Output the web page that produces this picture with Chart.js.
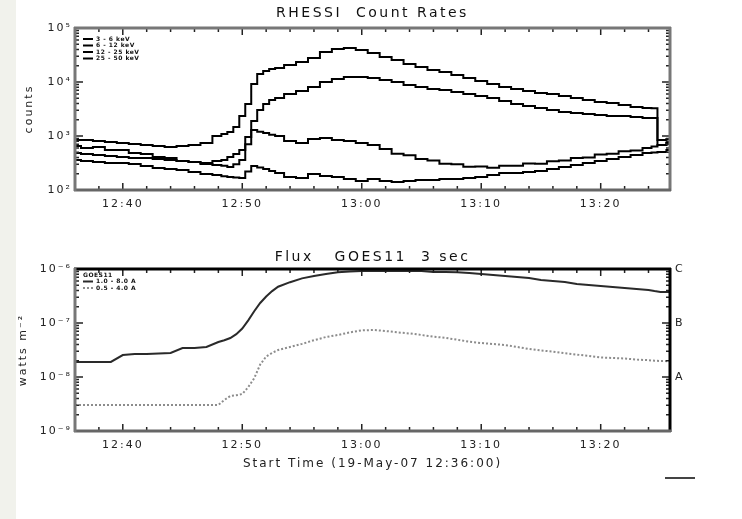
<!DOCTYPE html>
<html>
<head>
<meta charset="utf-8">
<script src="https://cdn.jsdelivr.net/npm/chart.js@4.4.0/dist/chart.umd.min.js"></script>
<style>
  html, body { margin: 0; padding: 0; background: #fff; }
  #page { position: relative; width: 742px; height: 519px; overflow: hidden; }
  #strip { position: absolute; left: 0; top: 0; width: 16px; height: 519px; background: #f1f2ec; }
  #countsChart { position: absolute; left: 0; top: 0; }
  #fluxChart { position: absolute; left: 0; top: 230px; }
  #stamp { position: absolute; left: 665px; top: 477px; width: 30px; height: 2px; background: #444; }
</style>
</head>
<body>
<div id="page">
  <div id="strip"></div>
  <canvas id="countsChart" width="742" height="235"></canvas>
  <canvas id="fluxChart" width="742" height="289"></canvas>
  <div id="stamp"></div>
</div>
<script>
// minutes after 12:00 UT; half-minute samples through the rise and at the attenuator drop
const minutes = [36, 37, 38, 39, 40, 41, 42, 43, 44, 45, 46, 47, 48,
                 48.5, 49, 49.5, 50, 50.5, 51, 51.5, 52, 52.5,
                 53, 54, 55, 56, 57, 58, 59, 60, 61, 62, 63, 64, 65, 66, 67, 68,
                 69, 70, 71, 72, 73, 74, 75, 76, 77, 78, 79, 80, 81, 82, 83, 84,
                 84.5, 85, 86];

// RHESSI count rates per energy band
const bandLabels = ['3 - 6 keV', '6 - 12 keV', '12 - 25 keV', '25 - 50 keV'];
const rate3to6 = [843, 843, 808, 774, 742, 711, 681, 653, 626, 653, 681, 742, 1000,
                  1089, 1186, 1468, 2345, 3910, 9180, 14060, 15980, 17410,
                  18170, 20640, 23460, 27830, 35940, 40840, 42630, 39150, 34440, 29040, 25550, 21540,
                  18960, 16680, 15320, 13480, 11860, 10430, 9180, 8080, 7420, 6810, 6260, 5990,
                  5500, 5055, 4640, 4263, 4085, 3750, 3445, 3300,
                  3250, 681, 760];
const rate6to12 = [484, 464, 445, 426, 408, 391, 391, 375, 359, 344, 330, 316, 344,
                   359, 408, 464, 550, 958, 1896, 3030, 3910, 4640,
                   5055, 5990, 6810, 8080, 10000, 11360, 12380, 12380, 11860, 10890, 10000, 8800,
                   8080, 7420, 7110, 6530, 5990, 5500, 5055, 4450, 3910, 3595, 3300, 3030,
                   2780, 2665, 2555, 2450, 2345, 2345, 2250, 2155,
                   2150, 843, 880];
const rate12to25 = [653, 599, 626, 550, 550, 484, 464, 408, 391, 344, 330, 303, 290,
                    280, 267, 300, 359, 700, 1290, 1200, 1136, 1060,
                    1000, 808, 742, 880, 918, 843, 808, 742, 681, 574, 470, 440,
                    375, 350, 305, 300, 270, 272, 258, 282, 280, 310, 305, 340,
                    350, 390, 400, 455, 470, 520, 540, 599,
                    640, 681, 742];
const rate25to50 = [359, 344, 330, 316, 316, 303, 278, 256, 245, 235, 215, 198, 190,
                    180, 174, 170, 167, 220, 278, 260, 245, 225,
                    206, 174, 167, 198, 182, 174, 160, 147, 160, 147, 141, 147,
                    153, 153, 160, 160, 167, 174, 190, 206, 206, 215, 225, 245,
                    267, 290, 316, 344, 375, 408, 445, 484,
                    495, 505, 550];

// GOES11 X-ray flux, watts m^-2
const fluxLabels = ['1.0 - 8.0 A', '0.5 - 4.0 A'];
const goesLong = [1.9e-8, 1.9e-8, 1.9e-8, 1.9e-8, 2.55e-8, 2.67e-8, 2.67e-8, 2.72e-8, 2.78e-8, 3.44e-8, 3.44e-8, 3.59e-8, 4.45e-8,
                  4.8e-8, 5.28e-8, 6.2e-8, 7.9e-8, 1.12e-7, 1.65e-7, 2.35e-7, 3.1e-7, 3.9e-7,
                  4.7e-7, 5.7e-7, 6.7e-7, 7.4e-7, 8.1e-7, 8.7e-7, 9.0e-7, 9.18e-7, 9.2e-7, 9.2e-7, 9.2e-7, 9.18e-7,
                  9.15e-7, 8.8e-7, 8.8e-7, 8.75e-7, 8.43e-7, 8.08e-7, 7.74e-7, 7.42e-7, 7.11e-7, 6.81e-7, 6.26e-7, 6.0e-7,
                  5.74e-7, 5.28e-7, 5.05e-7, 4.84e-7, 4.64e-7, 4.45e-7, 4.26e-7, 4.08e-7,
                  3.9e-7, 3.75e-7, 3.75e-7];
const goesShort = [3.03e-9, 3.03e-9, 3.03e-9, 3.03e-9, 3.03e-9, 3.03e-9, 3.03e-9, 3.03e-9, 3.03e-9, 3.03e-9, 3.03e-9, 3.03e-9, 3.03e-9,
                   3.75e-9, 4.45e-9, 4.6e-9, 4.84e-9, 6.5e-9, 9.5e-9, 1.7e-8, 2.4e-8, 2.8e-8,
                   3.16e-8, 3.59e-8, 4.1e-8, 4.8e-8, 5.5e-8, 6.0e-8, 6.7e-8, 7.3e-8, 7.42e-8, 7.11e-8, 6.7e-8, 6.4e-8,
                   6.0e-8, 5.6e-8, 5.3e-8, 4.9e-8, 4.5e-8, 4.26e-8, 4.08e-8, 3.91e-8, 3.6e-8, 3.3e-8, 3.1e-8, 2.95e-8,
                   2.75e-8, 2.6e-8, 2.45e-8, 2.3e-8, 2.25e-8, 2.2e-8, 2.1e-8, 2.05e-8,
                   2.0e-8, 1.98e-8, 1.95e-8];

// axis ticks
const timeTicks = [40, 50, 60, 70, 80];
const timeLabels = ['12:40', '12:50', '13:00', '13:10', '13:20'];
const countTicks = [1e2, 1e3, 1e4, 1e5];
const countLabels = ['10²', '10³', '10⁴', '10⁵'];
const fluxTicks = [1e-9, 1e-8, 1e-7, 1e-6];
const fluxTickLabels = ['10⁻⁹', '10⁻⁸', '10⁻⁷', '10⁻⁶'];
const classTicks = [1e-8, 1e-7, 1e-6];
const classLabels = ['A', 'B', 'C'];

const FONT = 'DejaVu Sans';

// IDL-style box: inward ticks on every side, frame, title and a tiny legend
const idlBox = {
  id: 'idlBox',
  beforeDraw(chart) {
    chart.ctx.letterSpacing = '2px';
  },
  afterDatasetsDraw(chart, args, opts) {
    const { ctx, chartArea: a, scales } = chart;
    const x = scales.x, y = scales.y;
    ctx.save();
    ctx.setLineDash([]);
    ctx.strokeStyle = '#222';
    ctx.lineWidth = 1.5;
    ctx.beginPath();
    for (let m = Math.ceil(x.min / 2) * 2; m <= x.max; m += 2) {
      const px = x.getPixelForValue(m);
      const len = m % 10 === 0 ? 7 : 4;
      ctx.moveTo(px, a.bottom); ctx.lineTo(px, a.bottom - len);
      ctx.moveTo(px, a.top); ctx.lineTo(px, a.top + len);
    }
    const d0 = Math.floor(Math.log10(y.min) + 1e-9);
    const d1 = Math.round(Math.log10(y.max));
    for (let d = d0; d < d1; d++) {
      for (let k = 1; k <= 9; k++) {
        const v = k * Math.pow(10, d);
        if (v < y.min * 0.999 || v > y.max * 1.001) continue;
        const py = y.getPixelForValue(v);
        const len = k === 1 ? 8 : 4;
        ctx.moveTo(a.left, py); ctx.lineTo(a.left + len, py);
        ctx.moveTo(a.right, py); ctx.lineTo(a.right - len, py);
      }
    }
    ctx.stroke();

    // frame edges: top, right, bottom, left
    const edges = opts.edges;
    const seg = [
      [a.left - 1, a.top, a.right + 1, a.top],
      [a.right, a.top - 1, a.right, a.bottom + 1],
      [a.left - 1, a.bottom, a.right + 1, a.bottom],
      [a.left, a.top - 1, a.left, a.bottom + 1]
    ];
    seg.forEach((s, i) => {
      ctx.strokeStyle = edges[i];
      ctx.lineWidth = 3;
      ctx.beginPath();
      ctx.moveTo(s[0], s[1]);
      ctx.lineTo(s[2], s[3]);
      ctx.stroke();
    });

    // title
    ctx.letterSpacing = '2.5px';
    ctx.fillStyle = '#111';
    ctx.font = '14px "' + FONT + '"';
    ctx.textAlign = 'center';
    ctx.textBaseline = 'middle';
    ctx.fillText(opts.title, (a.left + a.right) / 2, opts.titleY);

    // legend
    ctx.letterSpacing = '0.5px';
    ctx.font = 'bold 6px "' + FONT + '"';
    ctx.textAlign = 'left';
    let ly = a.top + opts.legendTop;
    if (opts.legendHead) {
      ctx.fillText(opts.legendHead, a.left + 8, ly);
      ly += 6.5;
    }
    chart.data.datasets.forEach(ds => {
      ctx.strokeStyle = ds.borderColor;
      ctx.lineWidth = 2;
      ctx.setLineDash(ds.borderDash || []);
      ctx.beginPath();
      ctx.moveTo(a.left + 8, ly);
      ctx.lineTo(a.left + 18, ly);
      ctx.stroke();
      ctx.setLineDash([]);
      ctx.fillText(ds.label, a.left + 21, ly);
      ly += 6.5;
    });
    ctx.restore();
  }
};

function series(values) {
  return minutes.map((m, i) => ({ x: m, y: values[i] }));
}

const tickFont = { family: FONT, size: 11 };

function timeAxis(height, withTitle) {
  return {
    type: 'linear',
    min: 36,
    max: 85.8,
    afterBuildTicks: s => { s.ticks = timeTicks.map(v => ({ value: v })); },
    afterFit: s => { s.height = height; },
    grid: { display: false, drawTicks: false },
    border: { display: false },
    ticks: {
      autoSkip: false, maxRotation: 0, padding: 8, color: '#222', font: tickFont,
      callback: (v, i) => timeLabels[i]
    },
    title: {
      display: withTitle,
      text: 'Start Time (19-May-07 12:36:00)',
      color: '#222',
      font: { family: FONT, size: 12 },
      padding: 0
    }
  };
}

function logAxis(min, max, ticks, labels, width, title, titlePad) {
  return {
    type: 'logarithmic',
    min: min,
    max: max,
    afterBuildTicks: s => { s.ticks = ticks.map(v => ({ value: v })); },
    afterFit: s => { s.width = width; },
    grid: { display: false, drawTicks: false },
    border: { display: false },
    ticks: {
      autoSkip: false, padding: 3, color: '#222', font: tickFont,
      callback: (v, i) => labels[i]
    },
    title: {
      display: true,
      text: title,
      color: '#222',
      font: { family: FONT, size: 11 },
      padding: { top: titlePad, bottom: 0 }
    }
  };
}

// upper panel: RHESSI count rates
new Chart(document.getElementById('countsChart'), {
  type: 'line',
  data: {
    datasets: [rate3to6, rate6to12, rate12to25, rate25to50].map((vals, i) => ({
      label: bandLabels[i],
      data: series(vals),
      borderColor: '#000',
      borderWidth: 2,
      pointRadius: 0,
      stepped: 'middle',
      fill: false
    }))
  },
  options: {
    responsive: false,
    animation: false,
    devicePixelRatio: 1,
    layout: { padding: { left: 17, right: 72, top: 28, bottom: 0 } },
    plugins: {
      legend: { display: false },
      tooltip: { enabled: false },
      idlBox: {
        title: 'RHESSI  Count Rates',
        titleY: 13,
        legendTop: 11,
        edges: ['#777', '#777', '#666', '#777']
      }
    },
    scales: {
      x: timeAxis(45, false),
      y: logAxis(1e2, 1e5, countTicks, countLabels, 58, 'counts', 6)
    }
  },
  plugins: [idlBox]
});

// lower panel: GOES flux
new Chart(document.getElementById('fluxChart'), {
  type: 'line',
  data: {
    datasets: [
      {
        label: fluxLabels[0],
        data: series(goesLong),
        borderColor: '#2a2a2a',
        borderWidth: 2,
        pointRadius: 0,
        fill: false
      },
      {
        label: fluxLabels[1],
        data: series(goesShort),
        borderColor: '#8c8c8c',
        borderWidth: 2,
        borderDash: [2, 2],
        pointRadius: 0,
        fill: false
      }
    ]
  },
  options: {
    responsive: false,
    animation: false,
    devicePixelRatio: 1,
    layout: { padding: { left: 17, right: 52, top: 39, bottom: 48 } },
    plugins: {
      legend: { display: false },
      tooltip: { enabled: false },
      idlBox: {
        title: 'Flux   GOES11  3 sec',
        titleY: 27,
        legendTop: 6,
        legendHead: 'GOES11',
        edges: ['#000', '#000', '#666', '#777']
      }
    },
    scales: {
      x: timeAxis(40, true),
      y: logAxis(1e-9, 1e-6, fluxTicks, fluxTickLabels, 58, 'watts m⁻²', 0),
      y2: {
        type: 'logarithmic',
        position: 'right',
        min: 1e-9,
        max: 1e-6,
        afterBuildTicks: s => { s.ticks = classTicks.map(v => ({ value: v })); },
        afterFit: s => { s.width = 20; },
        grid: { display: false, drawTicks: false },
        border: { display: false },
        ticks: {
          autoSkip: false, padding: 5, color: '#222', font: tickFont,
          callback: (v, i) => classLabels[i]
        }
      }
    }
  },
  plugins: [idlBox]
});
</script>
</body>
</html>
